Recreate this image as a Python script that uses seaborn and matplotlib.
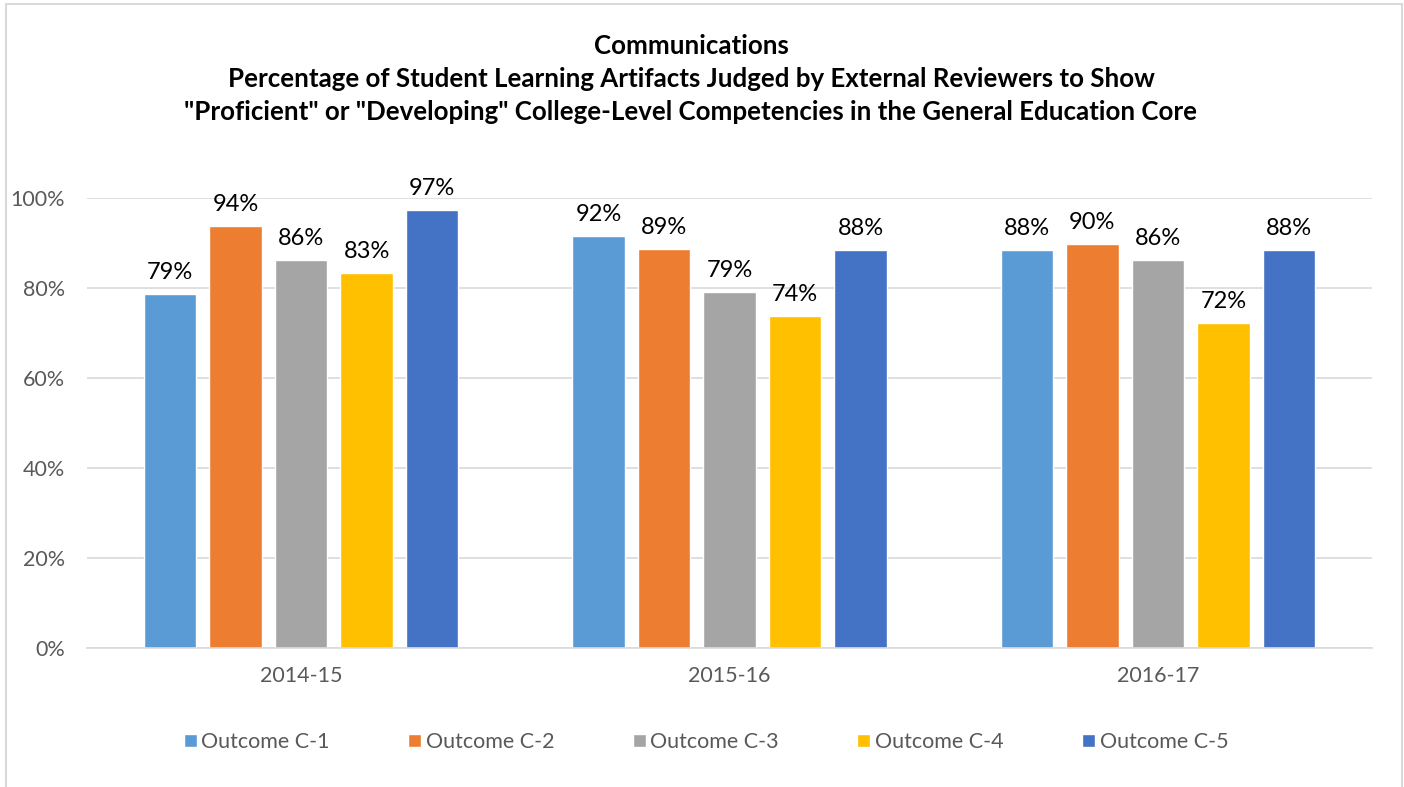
import matplotlib
matplotlib.use("Agg")
import matplotlib.pyplot as plt
import seaborn as sns
import pandas as pd
from matplotlib.patches import Rectangle

years = ["2014-15", "2015-16", "2016-17"]
outcomes = ["Outcome C-1", "Outcome C-2", "Outcome C-3", "Outcome C-4", "Outcome C-5"]
c1 = [78.7, 91.6, 88.4]
c2 = [93.8, 88.7, 89.8]
c3 = [86.2, 79.1, 86.2]
c4 = [83.4, 73.8, 72.2]
c5 = [97.3, 88.4, 88.4]
colors = ["#5B9BD5", "#ED7D31", "#A5A5A5", "#FFC000", "#4472C4"]
title = ("Communications\n"
         "Percentage of Student Learning Artifacts Judged by External Reviewers to Show\n"
         "\"Proficient\" or \"Developing\" College-Level Competencies in the General Education Core")

rows = []
for name, vals in zip(outcomes, [c1, c2, c3, c4, c5]):
    for y, v in zip(years, vals):
        rows.append({"Year": y, "Outcome": name, "Value": v})
df = pd.DataFrame(rows)

sns.set_theme(style="white")
plt.rcParams['font.family'] = ['Lato', 'DejaVu Sans']

fig = plt.figure(figsize=(14.04, 7.87), dpi=100)
ax = fig.add_axes([87/1404, 1-648/787, (1372-87)/1404, (648-198)/787])

sns.barplot(data=df, x="Year", y="Value", hue="Outcome", order=years, hue_order=outcomes,
            palette=colors, width=0.765, gap=0.2, saturation=1, ax=ax, legend=True)

ax.set_ylim(0, 100)
ax.set_xlim(-0.5, 2.5)
ax.set_yticks([0, 20, 40, 60, 80, 100])
ax.set_yticklabels([f"{t}%" for t in [0, 20, 40, 60, 80, 100]])
ax.grid(axis="y", color="#D9D9D9", linewidth=1.2)
ax.set_axisbelow(True)
for s in ["top", "right", "left"]:
    ax.spines[s].set_visible(False)
ax.spines["bottom"].set_color("#D9D9D9")
ax.spines["bottom"].set_linewidth(1.2)
ax.tick_params(axis="both", length=0, labelsize=15.5, colors="#595959")
ax.tick_params(axis="y", pad=16)
ax.tick_params(axis="x", pad=13)
ax.set_xlabel("")
ax.set_ylabel("")

for cont in ax.containers:
    ax.bar_label(cont, labels=[f"{round(b.get_height())}%" for b in cont], padding=8,
                 fontsize=17, color="black")

handles, labels = ax.get_legend_handles_labels()
ax.legend_.remove()
fig.legend(handles, labels, loc="center", bbox_to_anchor=(706/1404, 1-742/787), ncol=5,
           frameon=False, fontsize=15.5, handlelength=0.6, handleheight=0.6,
           handletextpad=0.23, columnspacing=3.63, labelcolor="#595959")

fig.text(691/1404, 1-79/787, title, ha="center", va="center", fontsize=18.6, fontweight="bold",
         linespacing=1.47, color="black", multialignment="center")

fig.patches.append(Rectangle((6/1404, -0.05), (1402-6)/1404, 1.05 - 4/787,
                             transform=fig.transFigure, fill=False,
                             edgecolor="#D9D9D9", linewidth=1.5))

fig.savefig("out.png", dpi=100)
